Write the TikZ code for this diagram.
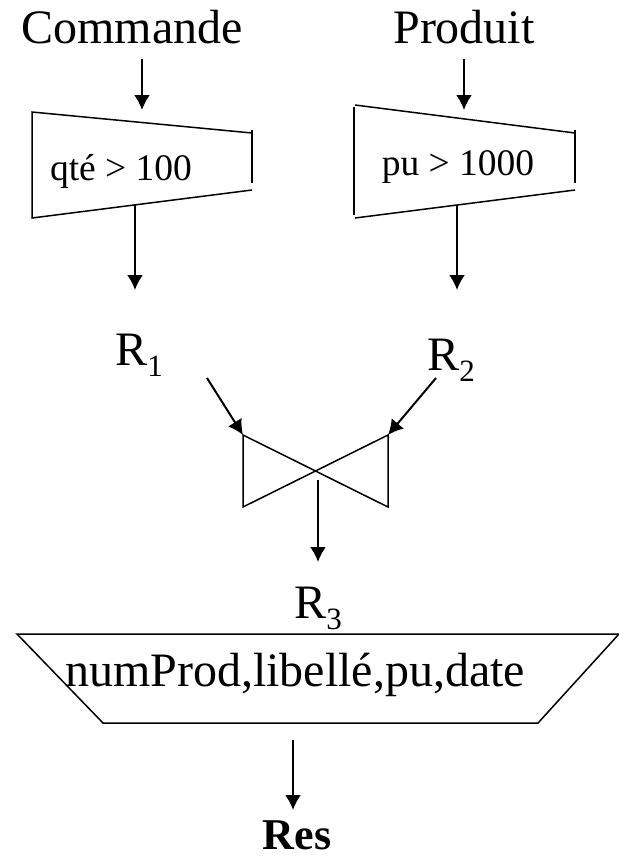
\documentclass[tikz,border=0pt]{standalone}
\usepackage{fontspec}
\setmainfont{Liberation Serif}
\usetikzlibrary{arrows.meta}
\newcommand{\indice}[1]{\raisebox{-5.5pt}{\fontsize{15.5}{16}\selectfont #1}}
\begin{document}
\begin{tikzpicture}[x=0.5pt,y=-0.5pt,
    fleche/.style={-{Latex[length=7.5pt,width=8pt]}, line width=1pt},
    trait/.style={line width=0.75pt},
    grand/.style={font=\fontsize{24}{28}\selectfont, inner sep=0pt},
    petit/.style={font=\fontsize{18.75}{22}\selectfont, inner sep=0pt}]
    \useasboundingbox (0,0) rectangle (619,858);
    % Relations de base
    \node[grand, anchor=base] (commande) at (132,43) {Commande};
    \node[grand, anchor=base] (produit)  at (464,43) {Produit};
    % Selection sur Commande
    \draw[trait] (252,133) -- (32,112) -- (32,218) -- (252,190);
    \draw[trait] (252,130) -- (252,183);
    \node[petit, anchor=base] (sel1) at (121,180) {qté > 100};
    \coordinate (sel1-in)  at (142,110);
    \coordinate (sel1-out) at (135,205);
    % Selection sur Produit
    \draw[trait] (575,133) -- (355,105);
    \draw[trait] (354,107) -- (354,215);
    \draw[trait] (355,218) -- (575,190);
    \draw[trait] (575,130) -- (575,183);
    \node[petit, anchor=base] (sel2) at (458,175) {pu > 1000};
    \coordinate (sel2-in)  at (464,110);
    \coordinate (sel2-out) at (457,205);
    % Resultats intermediaires
    \node[grand, anchor=base west] (r1) at (115,365) {R\indice{1}};
    \node[grand, anchor=base west] (r2) at (427,370) {R\indice{2}};
    \coordinate (r1-bas) at (207,378);
    \coordinate (r2-bas) at (436,378);
    \coordinate (r1-haut) at (135,290);
    \coordinate (r2-haut) at (457,290);
    % Jointure
    \draw[trait] (243,435) -- (388,507) -- (388,435) -- (243,507) -- cycle;
    \coordinate (join-g) at (243,435);
    \coordinate (join-d) at (388,435);
    \coordinate (join-out) at (318,480);
    \node[grand, anchor=base west] (r3) at (294,618) {R\indice{3}};
    \coordinate (r3-haut) at (318,562);
    % Projection
    \draw[trait] (17,634) -- (619,634) -- (538,723) -- (103,723) -- cycle;
    \node[grand, anchor=base] (proj) at (295,686) {numProd,libellé,pu,date};
    \coordinate (proj-out) at (293,740);
    \node[font=\fontsize{22}{26}\selectfont\bfseries, inner sep=0pt, anchor=base] (res) at (297,849) {Res};
    \coordinate (res-haut) at (293,810);
    % Fleches
    \draw[fleche] (sel1-in |- commande.south) ++(0,15) -- (sel1-in);
    \draw[fleche] (sel2-in |- produit.south) ++(0,15) -- (sel2-in);
    \draw[fleche] (sel1-out) -- (r1-haut);
    \draw[fleche] (sel2-out) -- (r2-haut);
    \draw[fleche] (r1-bas) -- (join-g);
    \draw[fleche] (r2-bas) -- (join-d);
    \draw[fleche] (join-out) -- (r3-haut);
    \draw[fleche] (proj-out) -- (res-haut);
\end{tikzpicture}
\end{document}
